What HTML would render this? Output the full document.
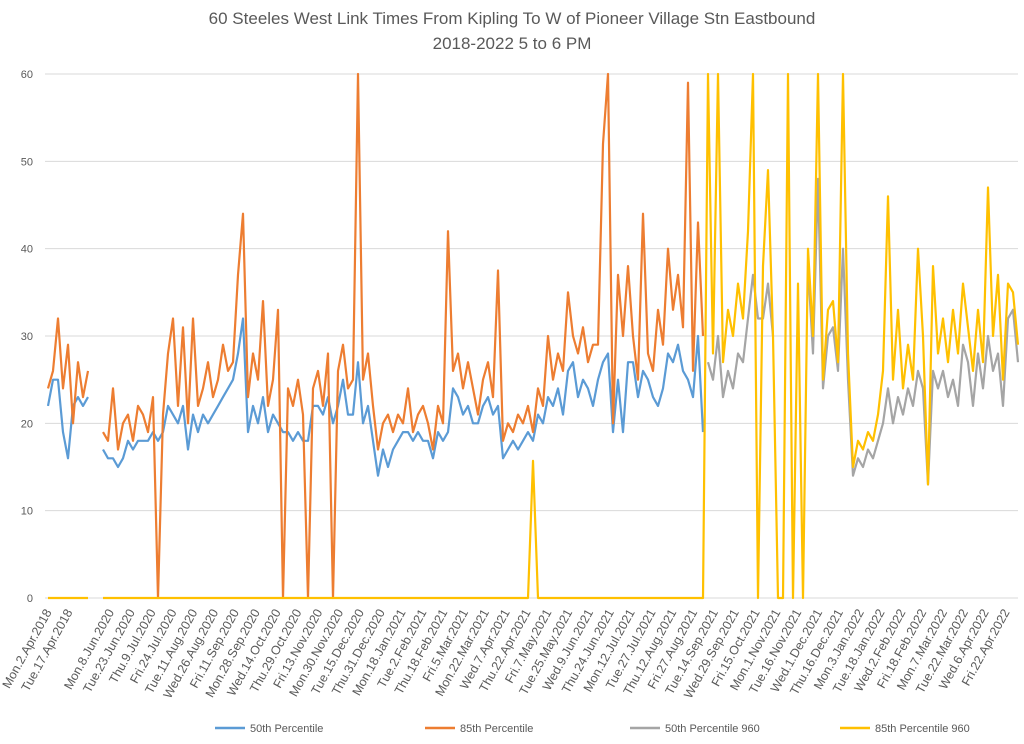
<!DOCTYPE html>
<html><head><meta charset="utf-8">
<style>
html,body{margin:0;padding:0;background:#fff;}
svg{display:block;font-family:"Liberation Sans",sans-serif;}
</style></head>
<body>
<svg id="chart" width="1024" height="744" viewBox="0 0 1024 744" xmlns="http://www.w3.org/2000/svg">
<rect width="1024" height="744" fill="#fff"/>
<text x="512" y="24" text-anchor="middle" font-size="17" fill="#595959">60 Steeles West Link Times From Kipling To W of Pioneer Village Stn Eastbound</text>
<text x="512" y="49" text-anchor="middle" font-size="17" fill="#595959">2018-2022 5 to 6 PM</text>
<g id="grid"></g><g id="yticks"></g><g id="xticks"></g><g id="series"></g>
<g id="legend">
<line x1="215" y1="728" x2="245" y2="728" stroke="#5B9BD5" stroke-width="2.5"/>
<text x="250" y="732" font-size="11" fill="#595959">50th Percentile</text>
<line x1="425" y1="728" x2="455" y2="728" stroke="#ED7D31" stroke-width="2.5"/>
<text x="460" y="732" font-size="11" fill="#595959">85th Percentile</text>
<line x1="630" y1="728" x2="660" y2="728" stroke="#A5A5A5" stroke-width="2.5"/>
<text x="665" y="732" font-size="11" fill="#595959">50th Percentile 960</text>
<line x1="840" y1="728" x2="870" y2="728" stroke="#FFC000" stroke-width="2.5"/>
<text x="875" y="732" font-size="11" fill="#595959">85th Percentile 960</text>
</g>
</svg>
<script>
const yTicks = [0,10,20,30,40,50,60];
const xTickLabels = ["Mon.2.Apr.2018","Tue.17.Apr.2018","","Mon.8.Jun.2020","Tue.23.Jun.2020","Thu.9.Jul.2020","Fri.24.Jul.2020","Tue.11.Aug.2020","Wed.26.Aug.2020","Fri.11.Sep.2020","Mon.28.Sep.2020","Wed.14.Oct.2020","Thu.29.Oct.2020","Fri.13.Nov.2020","Mon.30.Nov.2020","Tue.15.Dec.2020","Thu.31.Dec.2020","Mon.18.Jan.2021","Tue.2.Feb.2021","Thu.18.Feb.2021","Fri.5.Mar.2021","Mon.22.Mar.2021","Wed.7.Apr.2021","Thu.22.Apr.2021","Fri.7.May.2021","Tue.25.May.2021","Wed.9.Jun.2021","Thu.24.Jun.2021","Mon.12.Jul.2021","Tue.27.Jul.2021","Thu.12.Aug.2021","Fri.27.Aug.2021","Tue.14.Sep.2021","Wed.29.Sep.2021","Fri.15.Oct.2021","Mon.1.Nov.2021","Tue.16.Nov.2021","Wed.1.Dec.2021","Thu.16.Dec.2021","Mon.3.Jan.2022","Tue.18.Jan.2022","Wed.2.Feb.2022","Fri.18.Feb.2022","Mon.7.Mar.2022","Tue.22.Mar.2022","Wed.6.Apr.2022","Fri.22.Apr.2022"];
const p50 = [22,25,25,19,16,22,23,22,23,null,null,
17,16,16,15,16,18,17,18,18,18,19,18,19,
22,21,20,22,17,21,19,21,20,21,
22,23,24,25,28,32,19,22,20,23,
19,21,20,19,19,18,19,18,18,22,
22,21,23,20,22,25,21,21,27,20,
22,18,14,17,15,17,18,19,19,18,
19,18,18,16,19,18,19,24,23,21,
22,20,20,22,23,21,22,16,17,18,
17,18,19,18,21,20,23,22,24,21,
26,27,23,25,24,22,25,27,28,19,
25,19,27,27,23,26,25,23,22,24,
28,27,29,26,25,23,30,19];
const p85 = [24,26,32,24,29,20,27,23,26,null,null,
19,18,24,17,20,21,18,22,21,19,23,0,21,
28,32,22,31,20,32,22,24,27,23,
25,29,26,27,37,44,23,28,25,34,
22,25,33,0,24,22,25,21,0,24,
26,22,28,0,26,29,24,25,60,25,
28,22,17,20,21,19,21,20,24,19,
21,22,20,17,22,20,42,26,28,24,
27,24,21,25,27,23,37.5,18,20,19,
21,20,22,19,24,22,30,25,28,26,
35,30,28,31,27,29,29,52,60,20,
37,30,38,30,25,44,28,26,33,29,
40,33,37,31,59,26,43,30];
const p50r960Start = 132;
const p50r960 = [27,25,30,23,26,24,28,27,
32,37,32,32,36,30,null,null,null,null,
35,null,38,28,48,24,30,31,26,40,
25,14,16,15,17,16,18,20,24,20,
23,21,24,22,26,24,13,26,24,26,
23,25,22,29,27,22,28,24,30,26,
28,22,32,33,27];
const p85r960 = [0,0,0,0,0,0,0,0,0,null,
null,0,0,0,0,0,0,0,0,0,
0,0,0,0,0,0,0,0,0,0,
0,0,0,0,0,0,0,0,0,0,
0,0,0,0,0,0,0,0,0,0,
0,0,0,0,0,0,0,0,0,0,
0,0,0,0,0,0,0,0,0,0,
0,0,0,0,0,0,0,0,0,0,
0,0,0,0,0,0,0,0,0,0,
0,0,0,0,0,0,0,15.7,0,0,
0,0,0,0,0,0,0,0,0,0,
0,0,0,0,0,0,0,0,0,0,
0,0,0,0,0,0,0,0,0,0,
0,0,60,28,60,27,33,30,36,32,
42,60,0,38,49,30,0,0,60,0,
36,0,40,30,60,25,33,34,27,60,
28,15,18,17,19,18,21,26,46,25,
33,24,29,25,40,30,13,38,28,32,
27,33,28,36,31,26,33,27,47,30,
37,25,36,35,29];

const NS = "http://www.w3.org/2000/svg";
const X0 = 48, X1 = 1018, Y0 = 598, Y1 = 74, NPTS = 195;
function xScale(i){ return X0 + i*(X1-X0)/(NPTS-1); }
function yScale(v){ return Y0 - (v/60)*(Y0-Y1); }
function tickX(k){ return 52 + k*(1010-52)/(xTickLabels.length-1); }
function mk(tag, attrs, parent){ const e=document.createElementNS(NS,tag); for(const k in attrs) e.setAttribute(k,attrs[k]); parent.appendChild(e); return e; }

const grid = document.getElementById('grid');
const yt = document.getElementById('yticks');
yTicks.forEach(v=>{
  const l = mk('line',{x1:45,x2:1018,y1:yScale(v),y2:yScale(v),stroke:'#d9d9d9','stroke-width':1},grid);
  
  
  const t = mk('text',{x:33,y:yScale(v)+4,'text-anchor':'end','font-size':11,fill:'#595959'},yt);
  t.textContent = v;
  
  
});
const xt = document.getElementById('xticks');
xTickLabels.forEach((lab,k)=>{
  if(!lab) return;
  const x = tickX(k), y = 612;
  const t = mk('text',{x:x,y:y,'text-anchor':'end','font-size':12.5,fill:'#595959',transform:'rotate(-61 '+x+' '+y+')'},xt);
  t.textContent = lab;
  
  
});

const sg = document.getElementById('series');
function drawSeries(vals, start, color, name){
  let d = '', pen = false;
  vals.forEach((v,j)=>{
    if(v===null||v===undefined){ pen=false; return; }
    const i = start + j;
    d += (pen?'L':'M') + xScale(i).toFixed(1) + ' ' + yScale(v).toFixed(1) + ' ';
    pen = true;
  });
  const p = mk('path',{d:d,fill:'none',stroke:color,'stroke-width':2.2,'stroke-linejoin':'round'},sg);
  
  
}
drawSeries(p50,0,'#5B9BD5','series-50th-percentile');
drawSeries(p85,0,'#ED7D31','series-85th-percentile');
drawSeries(p50r960,p50r960Start,'#A5A5A5','series-50th-percentile-960');
drawSeries(p85r960,0,'#FFC000','series-85th-percentile-960');
</script>
</body></html>
